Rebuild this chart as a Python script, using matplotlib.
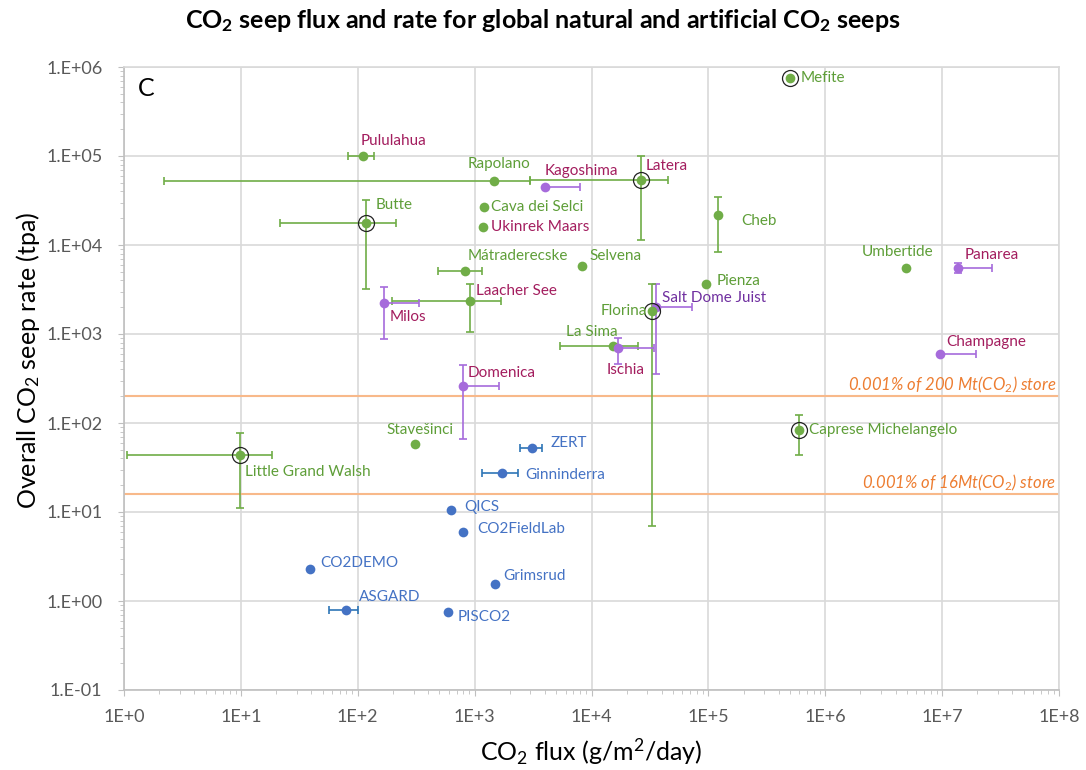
import numpy as np
import matplotlib
matplotlib.use("Agg")
import matplotlib.pyplot as plt
from matplotlib.ticker import LogLocator, FixedLocator, NullFormatter

plt.rcParams['font.family'] = ['Lato', 'DejaVu Sans']
plt.rcParams['mathtext.fontset'] = 'custom'
plt.rcParams['mathtext.rm'] = 'Lato'
plt.rcParams['mathtext.it'] = 'Lato:italic'
plt.rcParams['mathtext.bf'] = 'Lato:bold'

# seep name, flux (g/m2/day), rate (tpa), type
nombres = ["Pululahua", "Rapolano", "Kagoshima", "Latera", "Cava dei Selci", "Ukinrek Maars",
           "Butte", "Cheb", "Mefite", "Mátraderecske", "Selvena", "Umbertide", "Panarea",
           "Pienza", "Laacher See", "Salt Dome Juist", "Florina", "Milos", "La Sima", "Ischia",
           "Champagne", "Domenica", "Stavešinci", "Little Grand Walsh", "Caprese Michelangelo",
           "ZERT", "Ginninderra", "QICS", "CO2FieldLab", "CO2DEMO", "Grimsrud", "ASGARD", "PISCO2"]
flujo = [111, 1460, 4000, 26500, 1200, 1180,
         117, 1.2e5, 5.0e5, 826, 8280, 4.9e6, 1.36e7,
         9.5e4, 910, 3.55e4, 3.3e4, 168, 1.52e4, 1.7e4,
         9.5e6, 795, 309, 9.8, 6.0e5,
         3100, 1710, 627, 795, 39, 1490, 79, 590]
tasa = [1.0e5, 5.2e4, 4.5e4, 5.4e4, 2.67e4, 1.6e4,
        1.77e4, 2.17e4, 7.5e5, 5100, 5800, 5500, 5500,
        3640, 2350, 1990, 1810, 2240, 733, 697,
        596, 261, 58, 43.7, 83,
        52, 27.4, 10.5, 5.96, 2.29, 1.55, 0.79, 0.75]
# error limits (None = no error bar)
flujo_min = [82, 2.2, 4000, 2960, None, None,
             21.6, None, None, 485, None, None, 1.36e7,
             None, 196, 3.55e4, None, 168, 5400, 1.7e4,
             9.5e6, 795, None, 1.07, None,
             2440, 1150, None, None, None, None, 57, None]
flujo_max = [138, 2960, 8000, 4.5e4, None, None,
             212, None, None, 1150, None, None, 2.66e7,
             None, 1680, 7.3e4, None, 333, 2.5e4, 3.45e4,
             1.94e7, 1630, None, 18.4, None,
             3770, 2350, None, None, None, None, 100, None]
tasa_min = [None, None, None, 1.14e4, None, None,
            3200, 8300, None, None, None, None, 4800,
            None, 1050, 355, 7.0, 885, None, 460,
            None, 66, None, 11, 43.6,
            None, None, None, None, None, None, None, None]
tasa_max = [None, None, None, 1.0e5, None, None,
            3.2e4, 3.5e4, None, None, None, None, 6300,
            None, 3630, 3650, 3650, 3400, None, 908,
            None, 449, None, 77, 123,
            None, None, None, None, None, None, None, None]
# marker group: N natural (green), P natural (purple), A artificial
grupo = ["N", "N", "P", "N", "N", "N", "N", "N", "N", "N", "N", "N", "P",
         "N", "N", "P", "N", "P", "N", "P", "P", "P", "N", "N", "N",
         "A", "A", "A", "A", "A", "A", "A", "A"]
# label colour group
color_etiqueta = ["R", "N", "R", "R", "N", "R", "N", "N", "N", "N", "N", "N", "R",
                  "N", "R", "P", "N", "R", "N", "R", "R", "R", "N", "N", "N",
                  "A", "A", "A", "A", "A", "A", "A", "A"]
rodeados = ["Latera", "Butte", "Mefite", "Florina", "Little Grand Walsh", "Caprese Michelangelo"]

lineas_nivel = [200, 16]
textos_nivel = ["0.001% of 200 Mt(CO$_2$) store", "0.001% of 16Mt(CO$_2$) store"]

# label offsets in pixels (dx, dy up), alignment
desplaz = {
    "Pululahua": (-2, 15, 'left'), "Rapolano": (-26, 17, 'left'), "Kagoshima": (0, 16, 'left'),
    "Latera": (5, 14, 'left'), "Cava dei Selci": (7, 0, 'left'), "Ukinrek Maars": (8, 0, 'left'),
    "Butte": (10, 18, 'left'), "Cheb": (24, -6, 'left'), "Mefite": (11, 0, 'left'),
    "Mátraderecske": (3, 15, 'left'), "Selvena": (8, 10, 'left'), "Umbertide": (-44, 16, 'left'),
    "Panarea": (7, 13, 'left'), "Pienza": (11, 3, 'left'), "Laacher See": (6, 10, 'left'),
    "Salt Dome Juist": (6, 9, 'left'), "Florina": (-5, 0, 'right'), "Milos": (6, -14, 'left'),
    "La Sima": (-47, 14, 'left'), "Ischia": (-12, -22, 'left'), "Champagne": (7, 12, 'left'),
    "Domenica": (5, 13, 'left'), "Stavešinci": (-29, 14, 'left'),
    "Little Grand Walsh": (5, -17, 'left'), "Caprese Michelangelo": (10, 0, 'left'),
    "ZERT": (18, 5, 'left'), "Ginninderra": (23, -2, 'left'), "QICS": (13, 3, 'left'),
    "CO2FieldLab": (14, 3, 'left'), "CO2DEMO": (10, 6, 'left'), "Grimsrud": (8, 8, 'left'),
    "ASGARD": (13, 13, 'left'), "PISCO2": (10, -5, 'left'),
}

col_marca = {"N": "#70AD47", "P": "#A66BDB", "A": "#4472C4"}
col_error = {"N": "#70AD47", "P": "#A66BDB", "A": "#2E75B6"}
col_texto = {"N": "#5E9E38", "R": "#A31D5E", "P": "#7030A0", "A": "#4472C4"}

fig = plt.figure(figsize=(10.86, 7.70), dpi=100)
ax = fig.add_axes([124/1086, 80/770, 935/1086, 623/770])
ax.set_xscale('log')
ax.set_yscale('log')
ax.set_xlim(1, 1e8)
ax.set_ylim(0.1, 1e6)

for i, n in enumerate(nombres):
    x, y = flujo[i], tasa[i]
    g = grupo[i]
    xerr = None
    yerr = None
    if flujo_min[i] is not None:
        xerr = [[x - flujo_min[i]], [flujo_max[i] - x]]
    if tasa_min[i] is not None:
        yerr = [[y - tasa_min[i]], [tasa_max[i] - y]]
    if xerr is not None or yerr is not None:
        ax.errorbar(x, y, xerr=xerr, yerr=yerr, fmt='none', ecolor=col_error[g],
                    elinewidth=1.2, capsize=3, capthick=1.2, zorder=3)
    ax.plot(x, y, 'o', color=col_marca[g], markersize=7, markeredgewidth=0, zorder=4)
    if n in rodeados:
        ax.plot(x, y, 'o', markerfacecolor='none', markeredgecolor='#222222',
                markersize=11.5, markeredgewidth=0.9, zorder=5)
    dx, dy, ha = desplaz[n]
    ax.annotate(n, (x, y), xytext=(dx, dy), textcoords='offset pixels',
                ha=ha, va='center', fontsize=11, color=col_texto[color_etiqueta[i]], zorder=6)

for val, txt in zip(lineas_nivel, textos_nivel):
    ax.axhline(val, color='#F8B98A', linewidth=1.5, zorder=2)
    ax.annotate(txt, (1, val), xycoords=('axes fraction', 'data'), xytext=(-3, 11),
                textcoords='offset pixels', ha='right', va='center', fontsize=12,
                color='#ED7D31', style='italic')

ax.text(0.015, 0.966, "C", transform=ax.transAxes, fontsize=18, va='center', ha='left')

ax.xaxis.set_major_locator(FixedLocator([10.0**k for k in range(0, 9)]))
ax.yaxis.set_major_locator(FixedLocator([10.0**k for k in range(-1, 7)]))
ax.xaxis.set_minor_locator(LogLocator(base=10, subs=np.arange(2, 10)))
ax.yaxis.set_minor_locator(LogLocator(base=10, subs=np.arange(2, 10)))
ax.xaxis.set_minor_formatter(NullFormatter())
ax.yaxis.set_minor_formatter(NullFormatter())
ax.set_xticklabels(["1E+%d" % k for k in range(0, 9)])
ax.set_yticklabels(["1.E-01"] + ["1.E+%02d" % k for k in range(0, 7)])
ax.tick_params(axis='both', which='major', direction='out', length=4.5, color='#BFBFBF',
               labelsize=13, labelcolor='#595959')
ax.tick_params(axis='both', which='minor', direction='out', length=3, color='#BFBFBF')
ax.tick_params(axis='y', which='major', pad=11)
ax.tick_params(axis='x', which='major', pad=9)

ax.grid(True, which='major', color='#D9D9D9', linewidth=1.2, zorder=0)
ax.set_axisbelow(True)
for s in ['top', 'right']:
    ax.spines[s].set_color('#D9D9D9')
    ax.spines[s].set_linewidth(1.2)
for s in ['left', 'bottom']:
    ax.spines[s].set_color('#BFBFBF')
    ax.spines[s].set_linewidth(1.2)

ax.set_xlabel("CO$_2$ flux (g/m$^2$/day)", fontsize=18)
ax.set_ylabel("Overall CO$_2$ seep rate (tpa)", fontsize=18)
ax.xaxis.set_label_coords(0.5, -0.075)
ax.yaxis.set_label_coords(-0.088, 0.53)
fig.text(0.5, 0.974, r"CO$_\mathbf{2}$ seep flux and rate for global natural and artificial CO$_\mathbf{2}$ seeps",
         ha='center', va='center', fontsize=18, fontweight='bold')

fig.savefig("out.png", dpi=100)
